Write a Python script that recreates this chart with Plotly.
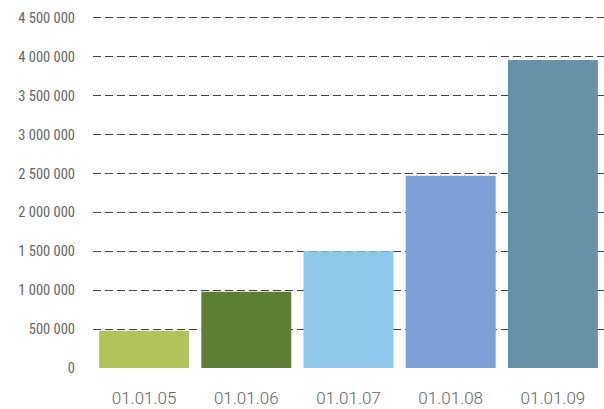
import plotly.graph_objects as go

categories = ["01.01.05", "01.01.06", "01.01.07", "01.01.08", "01.01.09"]
values = [480000, 980000, 1500000, 2470000, 3960000]
colors = ["#b3c35c", "#5f7e35", "#8dc7e9", "#7f9fd7", "#6592a6"]
y_ticks = [0, 500000, 1000000, 1500000, 2000000, 2500000, 3000000, 3500000, 4000000, 4500000]
y_labels = ["0", "500 000", "1 000 000", "1 500 000", "2 000 000", "2 500 000",
            "3 000 000", "3 500 000", "4 000 000", "4 500 000"]

fig = go.Figure(go.Bar(x=categories, y=values, marker=dict(color=colors, line=dict(width=0)),
                       hoverinfo="skip"))

fig.update_layout(
    width=604, height=409,
    margin=dict(l=93, r=0, t=14, b=41),
    paper_bgcolor="white", plot_bgcolor="white",
    bargap=0.12,
    showlegend=False,
    font=dict(family="Roboto", size=13, color="#666666"),
)
fig.update_xaxes(showgrid=False, showline=False, zeroline=False, ticks="",
                 ticklabelstandoff=18,
                 tickfont=dict(family="Roboto", size=17, color="#666666", weight=300))
fig.update_yaxes(range=[0, 4550000], tickvals=y_ticks, ticktext=y_labels,
                 showgrid=True, gridcolor="#444444", griddash="8px,4px", gridwidth=1,
                 zeroline=False, showline=False, ticks="", ticklabelstandoff=17,
                 tickfont=dict(family="Roboto", size=14.5, color="#666666"))

post = (
    "document.body.style.margin='0';document.body.style.overflow='hidden';"
    "document.querySelectorAll('.ytick text').forEach(function(t){t.style.fontStretch='condensed';});"
)
fig.write_html("out.html", config={"displayModeBar": False}, post_script=post)
